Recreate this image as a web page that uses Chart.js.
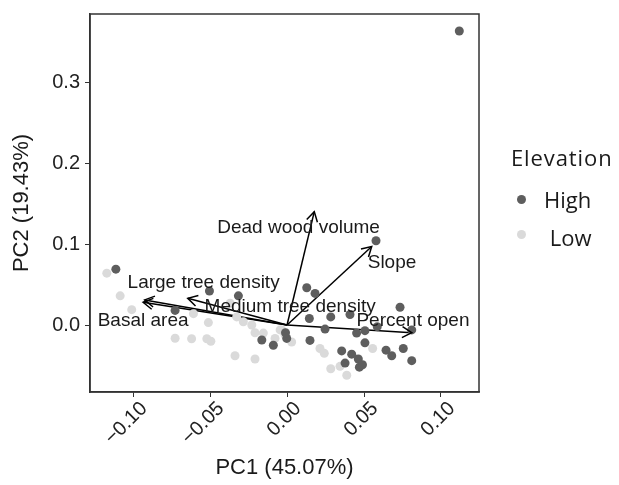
<!DOCTYPE html>
<html>
<head>
<meta charset="utf-8">
<script src="https://cdn.jsdelivr.net/npm/chart.js@4.4.0/dist/chart.umd.min.js"></script>
<style>
  body { margin: 0; background: #fff; }
  #wrap { position: relative; width: 619px; height: 485px; }
  #legend { position: absolute; left: 511px; top: 140px; font-family: "Open Sans", sans-serif; color: #1a1a1a; }
  #legend .title { font-size: 22px; line-height: 34px; letter-spacing: 0.9px; }
  #legend .item { font-size: 22px; line-height: 38px; position: relative; padding-left: 33px; }
  #legend .dot { position: absolute; left: 6px; top: 15px; width: 9px; height: 9px; border-radius: 50%; }
  #legend .first { margin-top: 6px; }
</style>
</head>
<body>
<div id="wrap">
  <canvas id="mycanvas" width="619" height="485"></canvas>
  <div id="legend">
    <div class="title">Elevation</div>
    <div class="item first"><span class="dot" style="background:#5e5e5e"></span>High</div>
    <div class="item"><span class="dot" style="background:#dadada;top:12px"></span>&nbsp;Low</div>
  </div>
</div>
<script>
// PCA scores, high elevation sites
var highPC1 = [0.1119, 0.0578, -0.1112, -0.0504, -0.0316, -0.0727, 0.0128, 0.0182, 0.0145, 0.0284, 0.0409,
  0.0247, 0.0734, 0.0810, 0.0452, 0.0506, 0.0586, 0.0506, 0.0643, 0.0680, 0.0755, 0.0810, 0.0149,
  0.0355, 0.0420, 0.0463, 0.0377, 0.0470, 0.0490, -0.0164, -0.0089, -0.0002, -0.0010];
var highPC2 = [0.363, 0.104, 0.069, 0.042, 0.036, 0.018, 0.046, 0.039, 0.008, 0.010, 0.013,
  -0.005, 0.022, -0.006, -0.010, -0.007, -0.002, -0.022, -0.031, -0.038, -0.029, -0.044, -0.019,
  -0.032, -0.036, -0.042, -0.047, -0.052, -0.049, -0.0185, -0.025, -0.0165, -0.0095];

// PCA scores, low elevation sites
var lowPC1 = [-0.1171, -0.1084, -0.1009, -0.0608, -0.0511, -0.0727, -0.0620, -0.0521, -0.0495, -0.0370,
  -0.0327, -0.0284, -0.0229, -0.0208, -0.0154, -0.0078, -0.0045, -0.0338, -0.0208, -0.0034,
  -0.0013, 0.0030, 0.0214, 0.0242, 0.0284, 0.0344, 0.0388, 0.0556];
var lowPC2 = [0.064, 0.036, 0.019, 0.014, 0.003, -0.0164, -0.017, -0.017, -0.020, 0.027,
  0.010, 0.004, 0.000, -0.0095, -0.010, -0.0165, -0.006, -0.038, -0.042, -0.006,
  -0.012, -0.021, -0.029, -0.035, -0.054, -0.051, -0.062, -0.029];

// loading arrows
var loadingNames = ["Dead wood volume", "Slope", "Percent open", "Medium tree density", "Large tree density", "Basal area"];
var loadingPC1 = [0.0177, 0.055, 0.081, -0.0645, -0.0925, -0.0935];
var loadingPC2 = [0.140, 0.097, -0.0095, 0.033, 0.031, 0.028];
var labelPC1 = [0.0075, 0.0682, 0.0818, 0.002, -0.0542, -0.0935];
var labelPC2 = [0.1198, 0.0765, 0.0049, 0.0222, 0.0519, 0.0049];

var xTicks = [-0.10, -0.05, 0.00, 0.05, 0.10];
var yTicks = [0.0, 0.1, 0.2, 0.3];

var FONT = '"Liberation Sans", Arial, sans-serif';

function pts(xs, ys) {
  var out = [];
  for (var i in xs) out.push({x: xs[i], y: ys[i]});
  return out;
}

var datasets = [
  {label: 'High', data: pts(highPC1, highPC2), backgroundColor: '#5e5e5e', borderWidth: 0, pointRadius: 4.5},
  {label: 'Low', data: pts(lowPC1, lowPC2), backgroundColor: '#dadada', borderWidth: 0, pointRadius: 4.5}
];
for (var i in loadingNames) {
  datasets.push({
    type: 'line', label: loadingNames[i],
    data: [{x: 0, y: 0}, {x: loadingPC1[i], y: loadingPC2[i]}],
    borderColor: '#000', borderWidth: 1.5, pointRadius: 0, fill: false
  });
}

var arrowPlugin = {
  id: 'arrows',
  afterDatasetsDraw: function(chart) {
    var ctx = chart.ctx, xs = chart.scales.x, ys = chart.scales.y;
    ctx.save();
    ctx.strokeStyle = '#000';
    ctx.lineWidth = 1.5;
    for (var i in loadingNames) {
      var x0 = xs.getPixelForValue(0), y0 = ys.getPixelForValue(0);
      var x1 = xs.getPixelForValue(loadingPC1[i]), y1 = ys.getPixelForValue(loadingPC2[i]);
      var a = Math.atan2(y1 - y0, x1 - x0), len = 11, sp = Math.PI / 6;
      ctx.beginPath();
      ctx.moveTo(x1 - len * Math.cos(a - sp), y1 - len * Math.sin(a - sp));
      ctx.lineTo(x1, y1);
      ctx.lineTo(x1 - len * Math.cos(a + sp), y1 - len * Math.sin(a + sp));
      ctx.stroke();
    }
    ctx.fillStyle = '#1a1a1a';
    ctx.font = '19px ' + FONT;
    ctx.textAlign = 'center';
    ctx.textBaseline = 'middle';
    for (var j in loadingNames) {
      ctx.fillText(loadingNames[j], xs.getPixelForValue(labelPC1[j]), ys.getPixelForValue(labelPC2[j]));
    }
    // panel border
    var ca = chart.chartArea;
    ctx.strokeStyle = '#333';
    ctx.lineWidth = 1.5;
    ctx.strokeRect(ca.left, ca.top, ca.right - ca.left, ca.bottom - ca.top);
    ctx.restore();
  }
};

function fmt(v, d) {
  return v.toFixed(d).replace('-', '\u2212');
}

var ctx = document.getElementById('mycanvas');
var chart = new Chart(ctx, {
  type: 'scatter',
  data: {datasets: datasets},
  plugins: [arrowPlugin],
  options: {
    responsive: false,
    animation: false,
    layout: {padding: {top: 14, right: 140, left: 0, bottom: 0}},
    plugins: {legend: {display: false}, tooltip: {enabled: false}},
    scales: {
      x: {
        type: 'linear', min: -0.128, max: 0.1247,
        afterBuildTicks: function(s) { s.ticks = xTicks.map(function(v) { return {value: v}; }); },
        afterFit: function(s) { s.height = 93; s.paddingLeft = 0; s.paddingRight = 0; },
        ticks: {
          callback: function(v) { return fmt(v, 2); },
          minRotation: 45, maxRotation: 45, padding: 0, labelOffset: 11,
          color: '#222', font: {family: FONT, size: 20}
        },
        grid: {drawOnChartArea: false, tickLength: 5, color: '#333'},
        border: {color: '#333', width: 1.5},
        title: {display: true, text: 'PC1 (45.07%)', color: '#1a1a1a', padding: {top: 4, bottom: 4},
          font: {family: FONT, size: 22}}
      },
      y: {
        type: 'linear', min: -0.0827, max: 0.384,
        afterBuildTicks: function(s) { s.ticks = yTicks.map(function(v) { return {value: v}; }); },
        afterFit: function(s) { s.width = 90; s.paddingTop = 0; s.paddingBottom = 0; },
        ticks: {
          callback: function(v) { return fmt(v, 1); },
          padding: 5,
          color: '#222', font: {family: FONT, size: 20}
        },
        grid: {drawOnChartArea: false, tickLength: 5, color: '#333'},
        border: {color: '#333', width: 1.5},
        title: {display: true, text: 'PC2 (19.43%)', color: '#1a1a1a', padding: {top: 9, bottom: 4},
          font: {family: FONT, size: 22}}
      }
    }
  }
});
</script>
</body>
</html>
